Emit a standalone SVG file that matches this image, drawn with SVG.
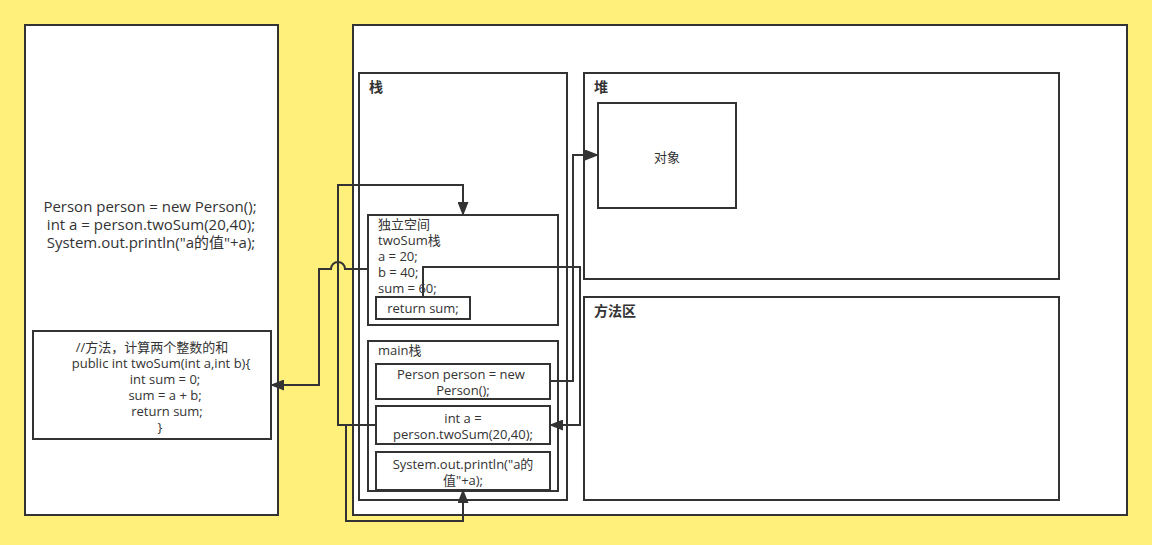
<svg xmlns="http://www.w3.org/2000/svg" width="1152" height="545" viewBox="0 0 1152 545">
<defs>
<style>
.box{fill:#fff;stroke:#333;stroke-width:2}
.t{font-family:"Open Sans","Noto Sans CJK SC",sans-serif;fill:#333}
.s12{font-size:13px}
.s15{font-size:15px}
.b{font-family:"Noto Sans CJK SC",sans-serif;font-size:14px;font-weight:bold}
.m{text-anchor:middle}
.c{fill:none;stroke:#333;stroke-width:2}
</style>
<marker id="ar" viewBox="0 0 14 11" refX="13" refY="5.5" markerWidth="14" markerHeight="11" orient="auto" markerUnits="userSpaceOnUse">
<path d="M0,0 L14,5.5 L0,11 Z" fill="#333"/>
</marker>
</defs>
<rect x="0" y="0" width="1152" height="545" fill="#fff07b"/>

<g id="left-panel">
<rect class="box" x="25" y="25" width="253" height="490"/>
<text class="t s15 m" x="150" y="212">Person person = new Person();</text>
<text class="t s15 m" x="151" y="230">int a = person.twoSum(20,40);</text>
<text class="t s15 m" x="151" y="248">System.out.println("a的值"+a);</text>
</g>

<g id="method-box">
<rect class="box" x="33" y="331" width="238" height="108"/>
<text class="t s12 m" x="152" y="352">//方法，计算两个整数的和</text>
<text class="t s12 m" x="161" y="368">public int twoSum(int a,int b){</text>
<text class="t s12 m" x="165" y="384">int sum = 0;</text>
<text class="t s12 m" x="165" y="400">sum = a + b;</text>
<text class="t s12 m" x="167" y="416">return sum;</text>
<text class="t s12 m" x="160" y="432">}</text>
</g>

<g id="right-panel">
<rect class="box" x="353" y="25" width="774" height="490"/>
</g>

<g id="stack">
<rect class="box" x="359" y="73" width="208" height="427"/>
<text class="t b" x="369" y="92">栈</text>
</g>

<g id="heap">
<rect class="box" x="584" y="73" width="475" height="206"/>
<text class="t b" x="594" y="92">堆</text>
</g>

<g id="method-area">
<rect class="box" x="584" y="297" width="475" height="203"/>
<text class="t b" x="594" y="316">方法区</text>
</g>

<g id="object">
<rect class="box" x="598" y="103" width="138" height="105"/>
<text class="t s12 m" x="667" y="162">对象</text>
</g>

<g id="twosum-frame">
<rect class="box" x="368" y="215" width="190" height="110"/>
<text class="t s12" x="378" y="229">独立空间</text>
<text class="t s12" x="378" y="245">twoSum栈</text>
<text class="t s12" x="378" y="261">a = 20;</text>
<text class="t s12" x="378" y="277">b = 40;</text>
<text class="t s12" x="378" y="293">sum = 60;</text>
</g>

<g id="return-sum">
<rect class="box" x="376" y="297" width="94" height="22"/>
<text class="t s12 m" x="423" y="313">return sum;</text>
</g>

<g id="main-frame">
<rect class="box" x="368" y="341" width="190" height="150"/>
<text class="t s12" x="378" y="355">main栈</text>
</g>

<g id="stmt-person">
<rect class="box" x="376" y="364" width="174" height="35"/>
<text class="t s12 m" x="461" y="379">Person person = new</text>
<text class="t s12 m" x="463" y="395">Person();</text>
</g>

<g id="stmt-inta">
<rect class="box" x="376" y="406" width="174" height="38"/>
<text class="t s12 m" x="463" y="423">int a =</text>
<text class="t s12 m" x="463" y="439">person.twoSum(20,40);</text>
</g>

<g id="stmt-print">
<rect class="box" x="376" y="452" width="174" height="38"/>
<text class="t s12 m" x="463" y="469">System.out.println("a的</text>
<text class="t s12 m" x="463" y="485">值"+a);</text>
</g>

<g id="connectors">
<path class="c" d="M376,425 L338,425 L338,185 L463,185 L463,215" marker-end="url(#ar)"/>
<path class="c" d="M368,269 L345,269 A7,7 0 0 0 331,269 L319,269 L319,385 L271,385" marker-end="url(#ar)"/>
<path class="c" d="M423,297 L423,267 L580,267 L580,425 L550,425" marker-end="url(#ar)"/>
<path class="c" d="M550,381 L573,381 L573,155 L598,155" marker-end="url(#ar)"/>
<path class="c" d="M376,425 L346,425 L346,521 L463,521 L463,490" marker-end="url(#ar)"/>
</g>
</svg>
